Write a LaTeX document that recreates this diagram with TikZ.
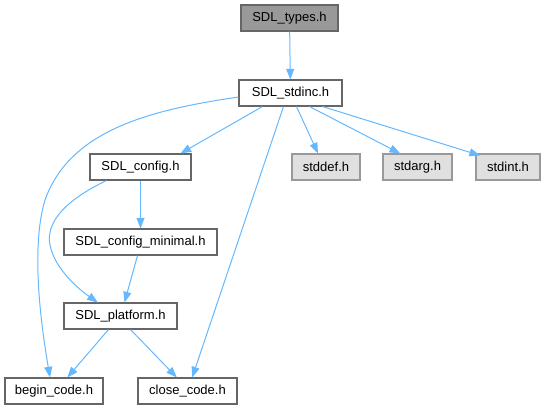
\documentclass[tikz,border=0pt]{standalone}
\usepackage{fontspec}
\setmainfont{Liberation Sans}
\usetikzlibrary{arrows.meta}
\definecolor{edgeblue}{HTML}{63B8FF}
\definecolor{boxborder}{HTML}{666666}
\definecolor{darkfill}{HTML}{999999}
\definecolor{sysfill}{HTML}{E0E0E0}
\definecolor{sysborder}{HTML}{999999}
\begin{document}
\begin{tikzpicture}[x=0.75pt,y=-0.75pt,
  filebox/.style={draw=boxborder,fill=white,line width=0.8pt,inner sep=0pt,minimum height=26*0.75pt,font=\fontsize{9.75}{11}\selectfont},
  curfile/.style={filebox,fill=darkfill},
  sysfile/.style={filebox,fill=sysfill,draw=sysborder},
  dep/.style={draw=edgeblue,line width=0.75pt,-{Triangle[length=8pt,width=6pt]}}]
\useasboundingbox (0,0) rectangle (547,411);
\node[curfile,minimum width=97*0.75pt] (types) at (289.5,18) {SDL\_types.h};
\node[filebox,minimum width=103*0.75pt] (stdinc) at (290.5,93) {SDL\_stdinc.h};
\node[filebox,minimum width=101*0.75pt] (config) at (140.5,167) {SDL\_config.h};
\node[sysfile,minimum width=68*0.75pt] (stddef) at (326,167) {stddef.h};
\node[sysfile,minimum width=69*0.75pt] (stdarg) at (417.5,167) {stdarg.h};
\node[sysfile,minimum width=64*0.75pt] (stdint) at (508,167) {stdint.h};
\node[filebox,minimum width=153*0.75pt] (minimal) at (140.5,242) {SDL\_config\_minimal.h};
\node[filebox,minimum width=113*0.75pt] (platform) at (120.5,316) {SDL\_platform.h};
\node[filebox,minimum width=98*0.75pt] (begin) at (54,391) {begin\_code.h};
\node[filebox,minimum width=99*0.75pt] (close) at (187.5,391) {close\_code.h};

\draw[dep] (types) -- (stdinc);
\draw[dep] (stdinc.south west) ++(24,0) coordinate (s1) (s1) -- ([xshift=30pt]config.north);
\draw[dep] (stdinc.west) ++(0,4) coordinate (s2) (s2) .. controls (150,110) and (70,130) .. (45,200) .. controls (30,250) and (42,330) .. ([xshift=-3pt]begin.north);
\draw[dep] (stdinc.south) ++(-7,0) coordinate (s3) (s3) -- ([xshift=3.5pt]close.north);
\draw[dep] (stdinc.south) ++(6,0) coordinate (s4) (s4) -- ([xshift=-6pt]stddef.north);
\draw[dep] (stdinc.south) ++(19,0) coordinate (s5) (s5) -- ([xshift=-13pt]stdarg.north);
\draw[dep] (stdinc.south) ++(32,0) coordinate (s6) (s6) -- ([xshift=-21pt,yshift=-1.5pt]stdint.north);
\draw[dep] (config) -- (minimal);
\draw[dep] (config.south west) ++(17,0) coordinate (c1) (c1) .. controls (70,198) and (45,220) .. (50,245) .. controls (55,270) and (80,290) .. ([xshift=-17pt]platform.north);
\draw[dep] (minimal.south) ++(-3,0) coordinate (m1) (m1) -- ([xshift=3pt]platform.north);
\draw[dep] (platform.south) ++(-12,0) coordinate (p1) (p1) -- ([xshift=10pt]begin.north);
\draw[dep] (platform.south) ++(10,0) coordinate (p2) (p2) -- ([xshift=-8pt]close.north);
\end{tikzpicture}
\end{document}
